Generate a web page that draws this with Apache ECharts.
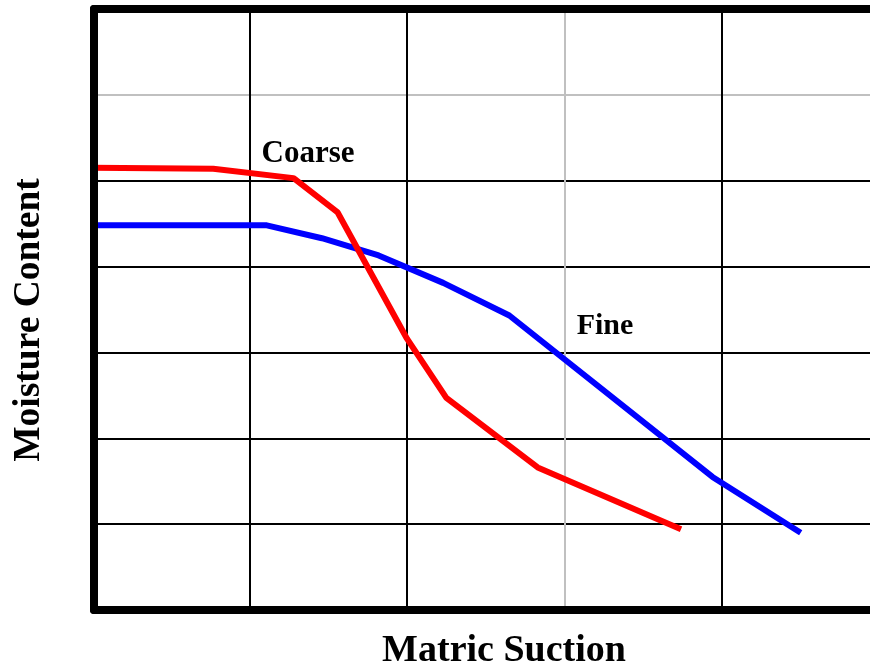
<!DOCTYPE html>
<html>
<head>
<meta charset="utf-8">
<script src="https://cdn.jsdelivr.net/npm/echarts@6/dist/echarts.min.js"></script>
<style>
html,body{margin:0;padding:0;background:#fff;}
#chart{width:870px;height:671px;}
</style>
</head>
<body>
<div id="chart"></div>
<script>
// Data (arbitrary units: x = matric suction, y = moisture content)
const coarseX = [0, 0.77, 1.28, 1.56, 2.00, 2.25, 2.83, 3.74];
const coarseY = [5.15, 5.14, 5.03, 4.63, 3.16, 2.47, 1.66, 0.94];
const fineX = [0, 1.11, 1.46, 1.82, 2.23, 2.65, 3.94, 4.50];
const fineY = [4.48, 4.48, 4.33, 4.13, 3.81, 3.43, 1.55, 0.90];
const xTicks = [0, 1, 2, 3, 4];
const xVisibleMax = 4.94; // the picture is cropped just before x = 5
const yTicks = [0, 1, 2, 3, 4, 5, 6, 7];
const seriesNames = ['Coarse', 'Fine'];
const xTitle = 'Matric Suction';
const yTitle = 'Moisture Content';

const pairs = (xs, ys) => xs.map((x, i) => [x, ys[i]]);
const serif = '"Liberation Serif", "Times New Roman", serif';
const hidden = {axisTick: {show: false}, axisLabel: {show: false}};

const chart = echarts.init(document.getElementById('chart'), null, {renderer: 'canvas'});
chart.setOption({
  animation: false,
  backgroundColor: '#fff',
  grid: [
    {left: 92, top: 9, bottom: 61, right: 0},
    {left: 94, top: 9, bottom: 61, right: 0}
  ],
  xAxis: [
    Object.assign({
      gridIndex: 0, type: 'value', min: xTicks[0], max: xVisibleMax, interval: 1,
      axisLine: {show: false},
      splitLine: {show: true, showMinLine: false, showMaxLine: false,
        lineStyle: {width: 2, color: ['#000', '#000', '#c0c0c0', '#000']}}
    }, hidden),
    Object.assign({gridIndex: 1, type: 'value', position: 'bottom', min: 0, max: 1, z: 10,
      axisLine: {show: true, lineStyle: {color: '#000', width: 8}}, splitLine: {show: false}}, hidden),
    Object.assign({gridIndex: 1, type: 'value', position: 'top', min: 0, max: 1, z: 10,
      axisLine: {show: true, lineStyle: {color: '#000', width: 8}}, splitLine: {show: false}}, hidden)
  ],
  yAxis: [
    Object.assign({
      gridIndex: 0, type: 'value', min: yTicks[0], max: yTicks[yTicks.length - 1], interval: 1,
      axisLine: {show: false},
      splitLine: {show: true, showMinLine: false, showMaxLine: false,
        lineStyle: {width: 2, color: ['#000', '#000', '#000', '#000', '#000', '#c0c0c0']}}
    }, hidden),
    Object.assign({gridIndex: 1, type: 'value', position: 'left', min: 0, max: 1, z: 10,
      axisLine: {show: true, lineStyle: {color: '#000', width: 8}}, splitLine: {show: false}}, hidden)
  ],
  series: [
    {name: seriesNames[0], type: 'line', xAxisIndex: 0, yAxisIndex: 0, data: pairs(coarseX, coarseY),
     showSymbol: false, symbol: 'none', lineStyle: {color: '#ff0000', width: 6}, z: 3},
    {name: seriesNames[1], type: 'line', xAxisIndex: 0, yAxisIndex: 0, data: pairs(fineX, fineY),
     showSymbol: false, symbol: 'none', lineStyle: {color: '#0000ff', width: 6}, z: 2}
  ],
  graphic: [
    {type: 'text', x: 308, y: 154, z: 20,
     style: {text: seriesNames[0], font: 'bold 31px ' + serif, fill: '#000', align: 'center', verticalAlign: 'middle'}},
    {type: 'text', x: 605, y: 326, z: 20,
     style: {text: seriesNames[1], font: 'bold 30px ' + serif, fill: '#000', align: 'center', verticalAlign: 'middle'}},
    {type: 'text', x: 504, y: 651, z: 20,
     style: {text: xTitle, font: 'bold 38px ' + serif, fill: '#000', align: 'center', verticalAlign: 'middle'}},
    {type: 'text', x: 29, y: 320, rotation: Math.PI / 2, z: 20,
     style: {text: yTitle, font: 'bold 37.5px ' + serif, fill: '#000', align: 'center', verticalAlign: 'middle'}}
  ]
});
</script>
</body>
</html>
